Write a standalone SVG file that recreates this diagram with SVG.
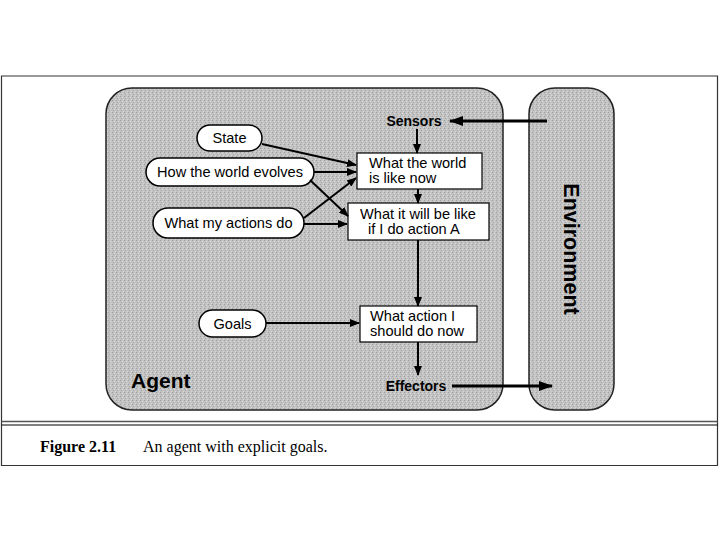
<svg xmlns="http://www.w3.org/2000/svg" width="720" height="540" viewBox="0 0 720 540">
<defs>
<pattern id="grain" width="4" height="4" patternUnits="userSpaceOnUse">
<rect width="4" height="4" fill="#c2c2c2"/>
<rect x="0" y="0" width="1" height="1" fill="#9e9e9e"/>
<rect x="2" y="1" width="1" height="1" fill="#dadada"/>
<rect x="1" y="2" width="1" height="1" fill="#a8a8a8"/>
<rect x="3" y="3" width="1" height="1" fill="#d6d6d6"/>
</pattern>
<marker id="ah" markerWidth="10" markerHeight="8" refX="9" refY="4" orient="auto" markerUnits="userSpaceOnUse">
<path d="M0,0 L10,4 L0,8 Z" fill="#000"/>
</marker>
<marker id="ahb" markerWidth="14" markerHeight="10" refX="13" refY="5" orient="auto" markerUnits="userSpaceOnUse">
<path d="M0,0 L14,5 L0,10 Z" fill="#000"/>
</marker>
</defs>
<style>
.panel{fill:url(#grain);stroke:#222;stroke-width:1.5}
.pill{fill:#fff;stroke:#000;stroke-width:1.5}
.box{fill:#fff;stroke:#000;stroke-width:1.2}
.t{font-family:"Liberation Sans",Arial,sans-serif;font-size:14.6px;fill:#000}
.b{font-family:"Liberation Sans",Arial,sans-serif;font-weight:bold;fill:#000}
.c{stroke:#000;stroke-width:2;fill:none;marker-end:url(#ah)}
.cb{stroke:#000;stroke-width:3;fill:none;marker-end:url(#ahb)}
.cap{font-family:"Liberation Serif","Times New Roman",serif;font-size:16px;fill:#000}
</style>
<rect width="720" height="540" fill="#fff"/>
<g id="frame">
<path d="M1.5,76 L717.5,76 L717.5,465.5 L1.5,465.5 Z" fill="none" stroke="#333" stroke-width="1.2"/>
<line x1="1.5" y1="421.5" x2="717.5" y2="421.5" stroke="#555" stroke-width="1.5"/>
<line x1="1.5" y1="425" x2="717.5" y2="425" stroke="#000" stroke-width="1"/>
</g>
<g id="agent">
<rect class="panel" x="106" y="88" width="397" height="322" rx="26" ry="26"/>
<text class="b" x="131" y="388" font-size="21">Agent</text>
</g>
<g id="environment">
<rect class="panel" x="529" y="88" width="85" height="322" rx="26" ry="26"/>
<text class="b" font-size="21.5" transform="translate(564,249) rotate(90)" text-anchor="middle">Environment</text>
</g>
<g id="sensors"><text class="b" x="414" y="126" font-size="14" text-anchor="middle">Sensors</text></g>
<g id="effectors"><text class="b" x="416" y="391" font-size="14" text-anchor="middle">Effectors</text></g>
<g id="state"><rect class="pill" x="197" y="125" width="65" height="26" rx="13"/><text class="t" x="229.5" y="143" text-anchor="middle">State</text></g>
<g id="evolves"><rect class="pill" x="146" y="158" width="168" height="28" rx="14"/><text class="t" x="230" y="177" text-anchor="middle">How the world evolves</text></g>
<g id="actions"><rect class="pill" x="153" y="208" width="151" height="30" rx="15"/><text class="t" x="228.5" y="228" text-anchor="middle">What my actions do</text></g>
<g id="goals"><rect class="pill" x="199" y="310" width="67" height="27" rx="13.5"/><text class="t" x="232.5" y="328.5" text-anchor="middle">Goals</text></g>
<g id="world-now"><rect class="box" x="357" y="153" width="125" height="36"/><text class="t" x="369" y="168">What the world</text><text class="t" x="369" y="183">is like now</text></g>
<g id="will-be"><rect class="box" x="348" y="203" width="141" height="37"/><text class="t" x="360" y="219">What it will be like</text><text class="t" x="368" y="234">if I do action A</text></g>
<g id="what-action"><rect class="box" x="360" y="306" width="117" height="36"/><text class="t" x="370" y="321">What action I</text><text class="t" x="370" y="336">should do now</text></g>
<g id="connectors">
<line class="cb" x1="547" y1="121" x2="450" y2="121"/>
<line class="cb" x1="452" y1="386" x2="552" y2="386"/>
<line class="c" x1="417" y1="129" x2="417" y2="153"/>
<line class="c" x1="262" y1="144" x2="356" y2="165"/>
<line class="c" x1="314" y1="172" x2="356" y2="172"/>
<line class="c" x1="304" y1="218" x2="356" y2="178"/>
<line class="c" x1="310" y1="180" x2="348" y2="216"/>
<line class="c" x1="304" y1="224" x2="347" y2="224"/>
<line class="c" x1="418" y1="189" x2="418" y2="203"/>
<line class="c" x1="418" y1="240" x2="418" y2="306"/>
<line class="c" x1="266" y1="323" x2="359" y2="323"/>
<line class="c" x1="418" y1="342" x2="418" y2="375"/>
</g>
<g id="caption">
<text class="cap" x="40" y="452" font-weight="bold">Figure 2.11</text>
<text class="cap" x="143" y="452" font-size="17">An agent with explicit goals.</text>
</g>
</svg>
